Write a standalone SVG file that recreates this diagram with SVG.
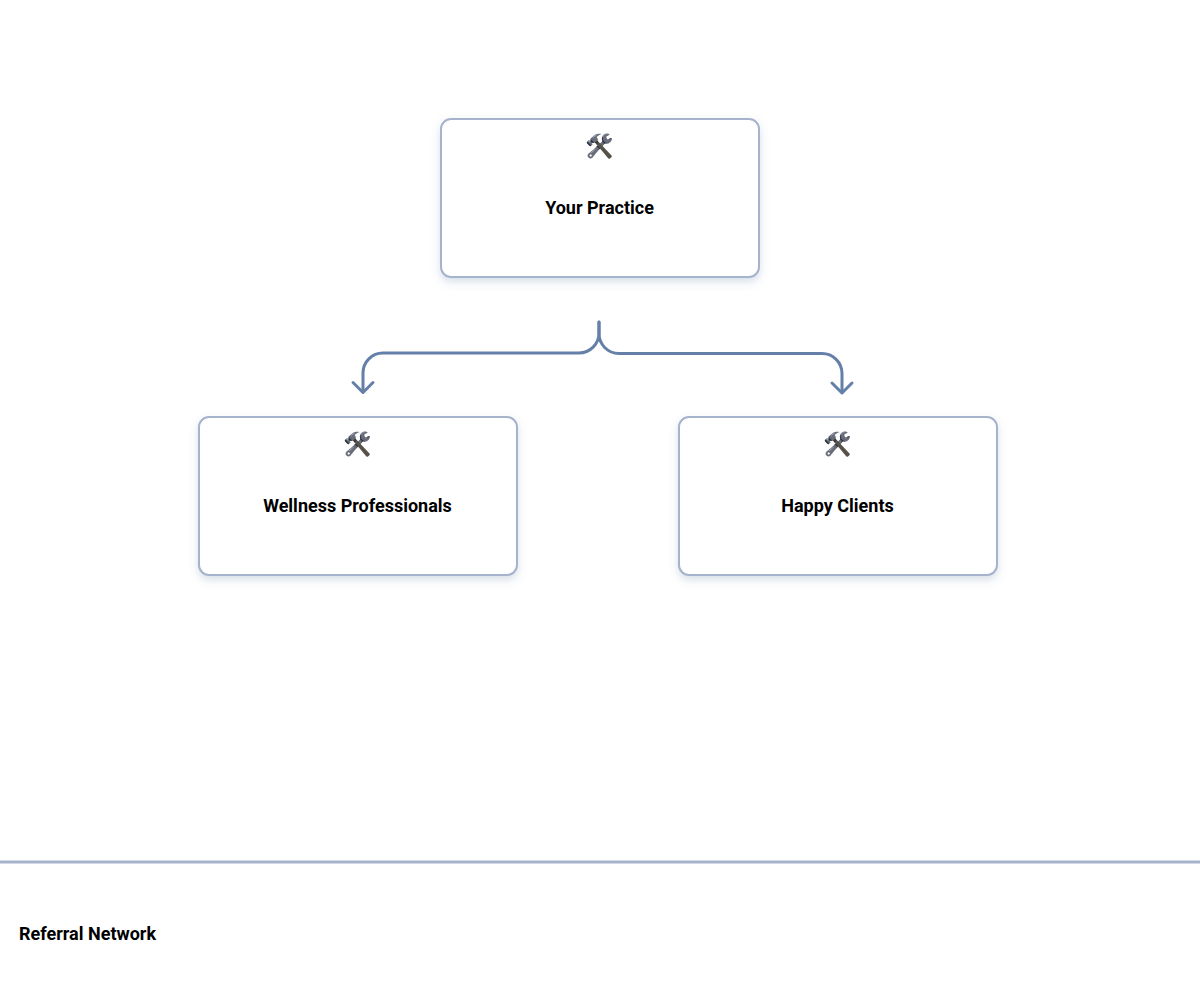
<svg xmlns="http://www.w3.org/2000/svg" width="1200" height="1000" viewBox="0 0 1200 1000">
<style>
.box{fill:#fff;stroke:#a6b3cc;stroke-width:2}
.lbl{font-family:Roboto,"Liberation Sans",sans-serif;font-size:18px;font-weight:700;fill:#000}
.ico{font-family:"Noto Color Emoji","Apple Color Emoji",Roboto,sans-serif;font-size:23px;filter:url(#tool)}
.c{fill:none;stroke:#6580a8;stroke-width:3;stroke-linecap:round;stroke-linejoin:round}
</style>
<defs>
<filter id="s" x="-10%" y="-10%" width="120%" height="125%"><feDropShadow dx="0" dy="4" stdDeviation="4" flood-color="#6580a8" flood-opacity="0.25"/></filter>
<filter id="tool" color-interpolation-filters="sRGB"><feColorMatrix type="matrix" values="0.5 0.3 0.1 0 -0.12 0.4 0.4 0.1 0 -0.12 0.3 0.3 0.3 0 -0.1 0 0 0 1 0"/></filter>
</defs>
<rect width="1200" height="1000" fill="#fff"/>
<g id="connectors">
<path class="c" d="M599 322V333A20 20 0 0 1 579 353H383A20 20 0 0 0 363 373V392"/>
<path class="c" d="M353 382.500L363 392.500L373 382.500"/>
<path class="c" d="M599 322V333A20 20 0 0 0 619 353.500H822A20 20 0 0 1 842 373.500V392"/>
<path class="c" d="M832 383L842 393L852 383"/>
</g>
<g id="node-practice"><rect class="box" filter="url(#s)" x="441" y="119" width="318" height="158" rx="10"/><text class="ico" x="600" y="154" text-anchor="middle">🛠️</text><text class="lbl" x="599.500" y="214" text-anchor="middle">Your Practice</text></g>
<g id="node-wellness"><rect class="box" filter="url(#s)" x="199" y="417" width="318" height="158" rx="10"/><text class="ico" x="358" y="452" text-anchor="middle">🛠️</text><text class="lbl" x="357.500" y="512" text-anchor="middle">Wellness Professionals</text></g>
<g id="node-clients"><rect class="box" filter="url(#s)" x="679" y="417" width="318" height="158" rx="10"/><text class="ico" x="838" y="452" text-anchor="middle">🛠️</text><text class="lbl" x="837.500" y="512" text-anchor="middle">Happy Clients</text></g>
<g id="footer"><line x1="0" y1="862" x2="1200" y2="862" stroke="#a6b3cc" stroke-width="3"/><text class="lbl" x="19" y="940">Referral Network</text></g>
</svg>
